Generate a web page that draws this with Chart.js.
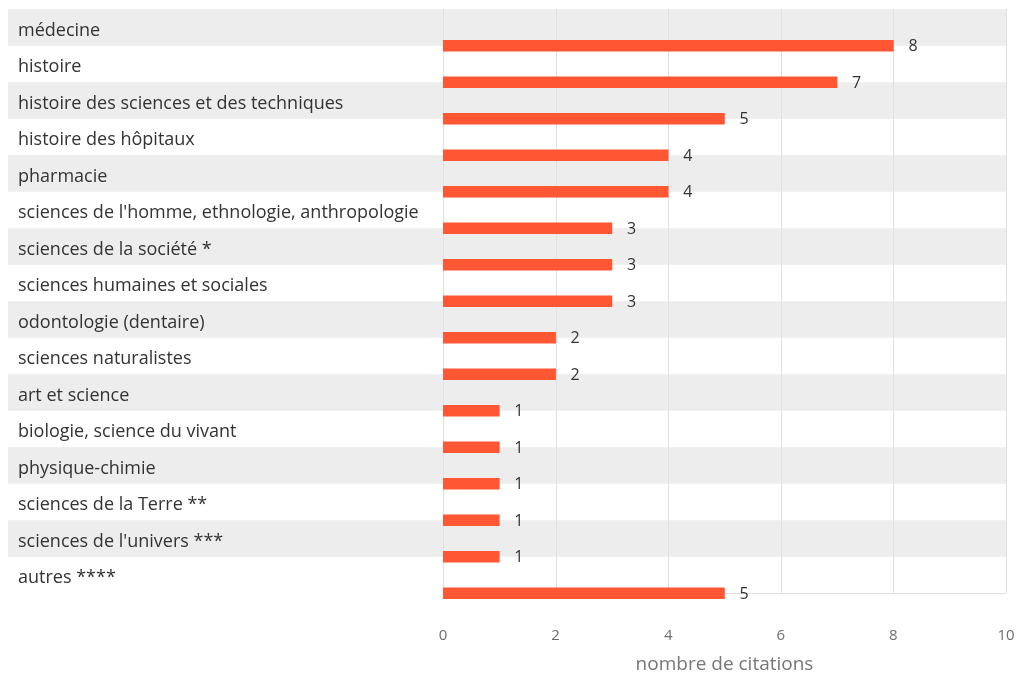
<!DOCTYPE html>
<html lang="fr">
<head>
<meta charset="utf-8">
<script src="https://cdn.jsdelivr.net/npm/chart.js@4.4.1/dist/chart.umd.min.js"></script>
<style>
  html, body { margin: 0; padding: 0; background: #fff; }
  #wrap { width: 1018px; height: 673px; }
</style>
</head>
<body>
<div id="wrap"><canvas id="c" width="1018" height="673"></canvas></div>
<script>
// Disciplines et nombre de citations
const categories = [
  "médecine",
  "histoire",
  "histoire des sciences et des techniques",
  "histoire des hôpitaux",
  "pharmacie",
  "sciences de l'homme, ethnologie, anthropologie",
  "sciences de la société *",
  "sciences humaines et sociales",
  "odontologie (dentaire)",
  "sciences naturalistes",
  "art et science",
  "biologie, science du vivant",
  "physique-chimie",
  "sciences de la Terre **",
  "sciences de l'univers ***",
  "autres ****"
];
const citations = [8, 7, 5, 4, 4, 3, 3, 3, 2, 2, 1, 1, 1, 1, 1, 5];
const xTicks = [0, 2, 4, 6, 8, 10];
const xTitle = "nombre de citations";

const FONT = "'Open Sans', sans-serif";
const BAR = "#ff5733";
const BAND = "#ededed";
const GRID = "#e1e1e1";

// Alternating row bands and vertical grid go under everything,
// value labels go on top of the bars
const rowDecor = {
  id: "rowDecor",
  beforeDraw(chart) {
    const { ctx } = chart;
    const x = chart.scales.x, y = chart.scales.y;
    const step = y.getPixelForValue(1) - y.getPixelForValue(0);
    const top = y.getPixelForValue(0) - step;
    const bottom = y.getPixelForValue(categories.length - 1);
    ctx.save();
    categories.forEach((c, i) => {
      if (i % 2 === 0) {
        const b = y.getPixelForValue(i);
        ctx.fillStyle = BAND;
        ctx.fillRect(8, b - step, 999, step);
      }
    });
    ctx.strokeStyle = GRID;
    ctx.lineWidth = 1;
    xTicks.forEach(t => {
      const px = Math.round(x.getPixelForValue(t)) + 0.5;
      ctx.beginPath();
      ctx.moveTo(px, top);
      ctx.lineTo(px, bottom);
      ctx.stroke();
    });
    ctx.beginPath();
    ctx.moveTo(x.getPixelForValue(0), Math.round(bottom) + 0.5);
    ctx.lineTo(x.getPixelForValue(10), Math.round(bottom) + 0.5);
    ctx.stroke();
    ctx.restore();
  },
  afterDatasetsDraw(chart) {
    const { ctx } = chart;
    const meta = chart.getDatasetMeta(0);
    ctx.save();
    ctx.fillStyle = "#333";
    ctx.font = "500 16px " + FONT;
    ctx.textAlign = "left";
    ctx.textBaseline = "middle";
    meta.data.forEach((bar, i) => {
      ctx.fillText(String(citations[i]), bar.x + 15, bar.y + 1);
    });
    ctx.restore();
  }
};

new Chart(document.getElementById("c"), {
  type: "bar",
  data: {
    labels: categories,
    datasets: [{
      data: citations,
      backgroundColor: BAR,
      borderWidth: 0,
      barThickness: 11
    }]
  },
  options: {
    indexAxis: "y",
    responsive: false,
    animation: false,
    layout: { padding: { left: 18, right: 12, top: 27.5, bottom: 0 } },
    plugins: { legend: { display: false }, tooltip: { enabled: false } },
    scales: {
      x: {
        min: 0, max: 10,
        afterBuildTicks(scale) { scale.ticks = xTicks.map(v => ({ value: v })); },
        grid: { display: false, drawTicks: false },
        border: { display: false },
        ticks: { color: "#6f6f6f", font: { family: FONT, size: 15 }, padding: 15 },
        title: {
          display: true, text: xTitle, color: "#777",
          font: { family: FONT, size: 19, lineHeight: 1.0 }, padding: { top: 6, bottom: -1 }
        },
        afterFit(scale) {
          scale.height = 673 - 611.5;
          scale.paddingLeft = 0;
          scale.paddingRight = 0;
        }
      },
      y: {
        grid: { display: false, drawTicks: false },
        border: { display: false },
        ticks: {
          autoSkip: false,
          crossAlign: "far", color: "#333", labelOffset: -15, padding: 0,
          font: { family: FONT, size: 18, weight: 500 }
        },
        afterFit(scale) { scale.width = 443 - 18; }
      }
    }
  },
  plugins: [rowDecor]
});
</script>
</body>
</html>
